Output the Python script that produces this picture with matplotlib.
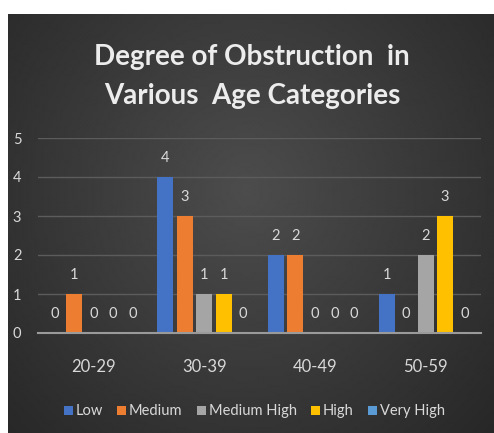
import numpy as np
import matplotlib
matplotlib.use("Agg")
from matplotlib import pyplot as plt
from matplotlib.patches import Rectangle

# data
categories = ["20-29", "30-39", "40-49", "50-59"]
series = ["Low", "Medium", "Medium High", "High", "Very High"]
low = [0, 4, 2, 1]
medium = [1, 3, 2, 0]
medium_high = [0, 1, 0, 2]
high = [0, 1, 0, 3]
very_high = [0, 0, 0, 0]
values = [low, medium, medium_high, high, very_high]
colors = ["#4472C4", "#ED7D31", "#A5A5A5", "#FFC000", "#5B9BD5"]

plt.rcParams["font.family"] = ["Lato", "DejaVu Sans"]
txt = "#d9d9d9"

fig = plt.figure(figsize=(4.94, 4.33), dpi=100)
fig.patch.set_facecolor("#2a2a2a")

# radial shading for the dark panel
bg = fig.add_axes([8/494, 0, 486/494, 419/433])
gx = np.linspace(0, 1, 121)
gy = np.linspace(0, 1, 101)
GX, GY = np.meshgrid(gx, gy)
r = np.sqrt(((GX - 0.49) / 0.57) ** 2 + ((GY - 0.58) / 0.70) ** 2)
shade = 0.30 - 0.12 * np.clip(r, 0, 1.2)
bg.pcolormesh(GX, GY, shade, cmap="gray", vmin=0, vmax=1, shading="gouraud")
bg.set_xlim(0, 1)
bg.set_ylim(0, 1)
bg.axis("off")

# white margins on the left and top
fig.add_artist(Rectangle((0, 0), 8/494, 1, transform=fig.transFigure,
                         facecolor="white", edgecolor="none", zorder=20))
fig.add_artist(Rectangle((0, 419/433), 1, 14/433, transform=fig.transFigure,
                         facecolor="white", edgecolor="none", zorder=20))

ax = fig.add_axes([38/494, 100/433, 443/494, 195/433])
ax.patch.set_alpha(0)
x = np.arange(len(categories))
w = 0.176
for i, (name, vals) in enumerate(zip(series, values)):
    pos = x + (i - 2) * w
    ax.bar(pos, vals, width=0.145, color=colors[i], label=name, zorder=3)
    for px, v in zip(pos, vals):
        ax.annotate(str(v), (px, v), xytext=(0, 14), textcoords="offset points",
                    ha="center", va="center", color=txt, fontsize=10.5)

ax.set_xlim(-0.5, 3.5)
ax.set_ylim(0, 5)
ax.set_yticks(range(6))
ax.set_xticks(x)
ax.set_xticklabels(categories)
ax.tick_params(axis="x", length=0, colors=txt, labelsize=12, pad=19)
ax.tick_params(axis="y", length=0, colors=txt, labelsize=10.5, pad=12)
ax.grid(axis="y", color="#5c5c5c", linewidth=1, zorder=0)
for s in ["top", "right", "left"]:
    ax.spines[s].set_visible(False)
ax.spines["bottom"].set_color("#9a9a9a")
ax.spines["bottom"].set_linewidth(1.5)
ax.spines["bottom"].set_zorder(4)

fig.text(0.51, 0.823, "Degree of Obstruction  in\nVarious  Age Categories",
         ha="center", va="center", color="#ececec", fontsize=20,
         fontweight="bold", linespacing=1.6)

leg = fig.legend(loc="center", bbox_to_anchor=(0.515, 0.05), ncol=5,
                 frameon=False, fontsize=10.5, handlelength=0.6, handleheight=0.6,
                 handletextpad=0.2, columnspacing=1.0)
for t in leg.get_texts():
    t.set_color(txt)

fig.savefig("out.png", dpi=100, facecolor=fig.get_facecolor())
